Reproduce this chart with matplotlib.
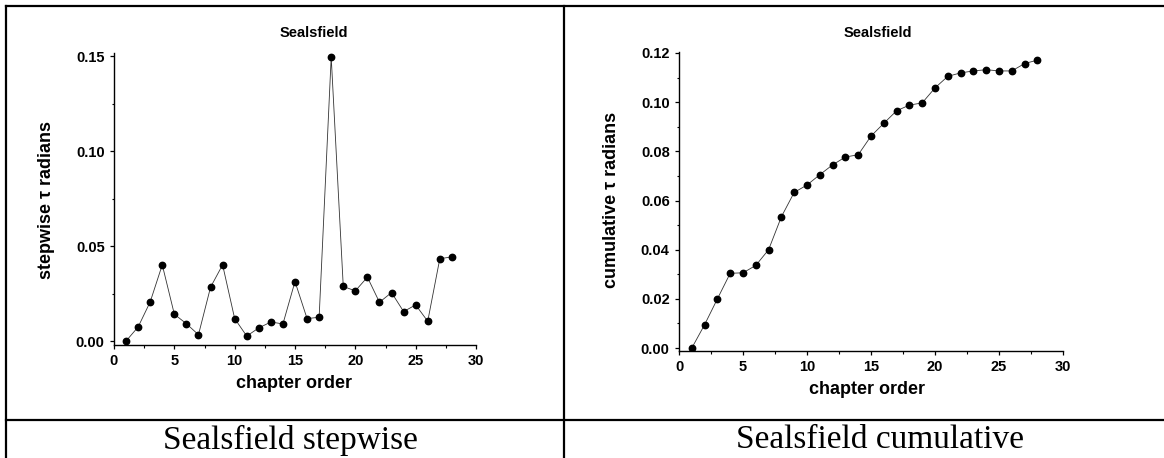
import matplotlib
matplotlib.use("Agg")
import matplotlib.pyplot as plt
from matplotlib.lines import Line2D
from matplotlib.ticker import MultipleLocator, FormatStrFormatter

# chapter order 1..28
chapters = list(range(1, 29))

# stepwise tau (radians) per chapter
stepwise = [0.0000, 0.0074, 0.0206, 0.0401, 0.0141, 0.0091, 0.0033, 0.0283,
            0.0401, 0.0118, 0.0026, 0.0069, 0.0100, 0.0090, 0.0313, 0.0118,
            0.0125, 0.1495, 0.0287, 0.0264, 0.0336, 0.0204, 0.0255, 0.0155,
            0.0190, 0.0104, 0.0433, 0.0443]

# cumulative tau (radians) per chapter
cumulative = [0.0000, 0.0095, 0.0200, 0.0304, 0.0306, 0.0336, 0.0400, 0.0534,
              0.0633, 0.0663, 0.0705, 0.0745, 0.0777, 0.0786, 0.0862, 0.0914,
              0.0965, 0.0988, 0.0997, 0.1058, 0.1105, 0.1119, 0.1127, 0.1132,
              0.1127, 0.1127, 0.1157, 0.1171]

title = "Sealsfield"
captions = ["Sealsfield stepwise", "Sealsfield cumulative"]

plt.rcParams['font.family'] = ['Liberation Sans', 'DejaVu Sans']
plt.rcParams['font.weight'] = 'bold'

W, H = 1164, 458
fig = plt.figure(figsize=(W / 100, H / 100), dpi=100)


def px(x, y):
    # pixel position -> figure fraction
    return x / W, 1 - y / H


def setup(ax, ylim, ymaj, ymin):
    ax.set_xlim(0, 30)
    ax.set_ylim(*ylim)
    ax.xaxis.set_major_locator(MultipleLocator(5))
    ax.xaxis.set_minor_locator(MultipleLocator(2.5))
    ax.yaxis.set_major_locator(MultipleLocator(ymaj))
    ax.yaxis.set_minor_locator(MultipleLocator(ymin))
    ax.yaxis.set_major_formatter(FormatStrFormatter('%.2f'))
    for s in ['top', 'right']:
        ax.spines[s].set_visible(False)
    for s in ['left', 'bottom']:
        ax.spines[s].set_linewidth(1.0)
    ax.tick_params(which='major', direction='out', length=3.2, width=0.9,
                   labelsize=10.5, pad=3.5)
    ax.tick_params(which='minor', direction='out', length=1.8, width=0.8)
    for lab in ax.get_xticklabels() + ax.get_yticklabels():
        lab.set_fontweight('bold')


line_kw = dict(color='#333333', linewidth=0.6, marker='o', markersize=4.6,
               markerfacecolor='black', markeredgecolor='black')

# left: stepwise
ax1 = fig.add_axes([114 / W, 1 - 345 / H, 362 / W, 292 / H])
ax1.plot(chapters, stepwise, **line_kw)
setup(ax1, (-0.0021, 0.1516), 0.05, 0.025)

# right: cumulative
ax2 = fig.add_axes([679 / W, 1 - 351 / H, 384 / W, 299 / H])
ax2.plot(chapters, cumulative, **line_kw)
setup(ax2, (-0.0012, 0.1204), 0.02, 0.01)

txt = dict(fontweight='bold', ha='center', va='center')
fig.text(*px(314, 33), title, fontsize=10.5, **txt)
fig.text(*px(878, 33), title, fontsize=10.5, **txt)
fig.text(*px(47, 200), "stepwise \u03c4 radians", fontsize=13, rotation=90, **txt)
fig.text(*px(612, 200), "cumulative \u03c4 radians", fontsize=13, rotation=90, **txt)
fig.text(*px(294, 383), "chapter order", fontsize=13, **txt)
fig.text(*px(867, 390), "chapter order", fontsize=13, **txt)

# captions under the panels
cap = dict(fontsize=24, ha='center', va='center', family='Liberation Serif',
           fontweight='normal')
fig.text(*px(290, 440), captions[0], **cap)
fig.text(*px(880, 440), captions[1], **cap)

# table borders
border = dict(color='black', linewidth=1.6, transform=fig.transFigure)
for (x0, y0), (x1, y1) in [((5.5, 5.5), (W, 5.5)),
                           ((5.5, 5.5), (5.5, H)),
                           ((564, 5.5), (564, H)),
                           ((5.5, 420), (W, 420))]:
    a, b = px(x0, y0)
    c, d = px(x1, y1)
    fig.add_artist(Line2D([a, c], [b, d], **border))

fig.savefig("out.png", dpi=100)
